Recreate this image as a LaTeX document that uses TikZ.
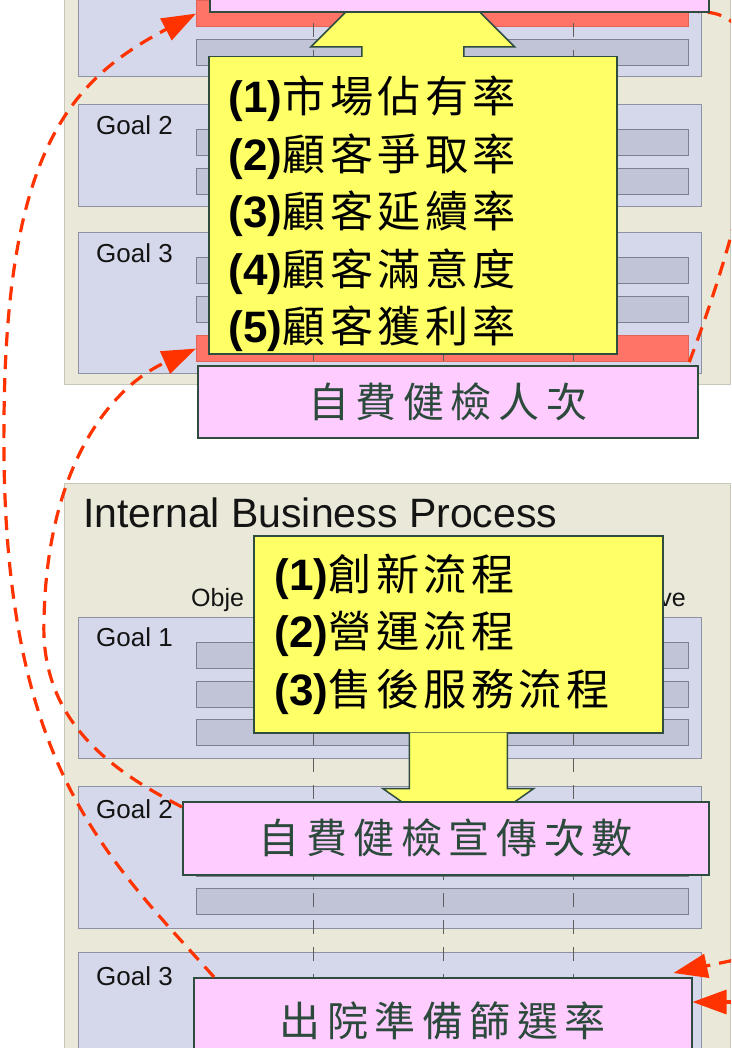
\documentclass[tikz,border=0pt]{standalone}
\usepackage{fontspec}
\setmainfont{Liberation Sans}
\newfontfamily\cjk[LetterSpace=10,Scale=1.08]{Noto Sans CJK TC}
\newfontfamily\cjkwide[LetterSpace=16]{Noto Sans CJK TC}
\usetikzlibrary{arrows.meta, positioning, calc}
\definecolor{panelbg}{HTML}{EAE8D8}
\definecolor{panelln}{HTML}{C9C7B8}
\definecolor{goalbg}{HTML}{D5D8EA}
\definecolor{goalln}{HTML}{8E91A2}
\definecolor{barbg}{HTML}{C1C3D6}
\definecolor{barln}{HTML}{7D808F}
\definecolor{hotbg}{HTML}{FF7466}
\definecolor{hotln}{HTML}{E2625A}
\definecolor{kpibg}{HTML}{FFFF66}
\definecolor{tagbg}{HTML}{FFCCFF}
\definecolor{boxln}{HTML}{2E4D3E}
\definecolor{tagtxt}{HTML}{2B4A3B}
\definecolor{lbltxt}{HTML}{141414}
\definecolor{linkred}{HTML}{FF3300}
\definecolor{divln}{HTML}{5E5E5E}
\newcommand\kpiline[2]{{\bfseries\fontsize{44}{57.5}\selectfont(#1)}{\cjk #2}}
\tikzset{
  panelbox/.style ={rectangle, draw=panelln, fill=panelbg, line width=1.2pt},
  goalbox/.style  ={rectangle, draw=goalln, fill=goalbg, line width=1.2pt, minimum width=623},
  barbox/.style   ={rectangle, draw=barln, fill=barbg, line width=1.2pt, minimum width=492, minimum height=26},
  hotbar/.style   ={barbox, draw=hotln, fill=hotbg},
  goallbl/.style  ={font=\fontsize{26}{30}\selectfont, text=lbltxt, inner sep=0pt, anchor=base west},
  hdrlbl/.style   ={font=\fontsize{25}{30}\selectfont, text=lbltxt, inner sep=0pt},
  kpibox/.style   ={rectangle, draw=boxln, fill=kpibg, line width=1.5pt, align=left, inner xsep=20, inner ysep=0, font=\fontsize{40}{57.5}\selectfont},
  kpiarrow/.style ={draw=boxln, fill=kpibg, line width=1.5pt, line join=miter},
  tagbox/.style   ={rectangle, draw=boxln, fill=tagbg, line width=1.5pt, text=tagtxt, font=\cjkwide\fontsize{41}{48}\selectfont},
  divline/.style  ={draw=divln, line width=1pt, dash pattern=on 14pt off 13pt},
  redlink/.style  ={draw=linkred, line width=3.2pt, dash pattern=on 14pt off 9pt},
  redarrow/.style ={-{Triangle[length=34pt,width=24pt]}},
}
\begin{document}
\begin{tikzpicture}[x=1pt, y=-1pt]
\useasboundingbox (0,0) rectangle (731,1048);
\clip (0,0) rectangle (731,1048);

% 顧客構面
\node[panelbox, minimum width=666, minimum height=425, anchor=south west] (custpanel) at (64,385) {};
\node[goalbox, minimum height=137, anchor=south west] (cgoal1) at (78,77) {};
\node[goalbox, minimum height=102, anchor=north west] (cgoal2) at (78,104) {};
\node[goalbox, minimum height=141, anchor=north west] (cgoal3) at (78,232) {};
\node[goallbl] (cg2lbl) at (96,135) {Goal 2};
\node[goallbl] (cg3lbl) at (96,263) {Goal 3};
\node[hotbar, anchor=north west] (chot1) at (196,0) {};
\node[barbox, anchor=north west] (cbar1) at (196,39) {};
\node[barbox, anchor=north west] (cbar2) at (196,129) {};
\node[barbox, anchor=north west] (cbar3) at (196,168) {};
\node[barbox, anchor=north west] (cbar4) at (196,257) {};
\node[barbox, anchor=north west] (cbar5) at (196,296) {};
\node[hotbar, anchor=north west] (chot3) at (196,335) {};

% 內部流程構面
\node[panelbox, minimum width=666, minimum height=600, anchor=north west] (ipanel) at (64,483) {};
\node[font=\fontsize{41}{48}\selectfont, text=lbltxt, inner sep=0pt, anchor=base west] (ititle) at (83,527) {Internal Business Process};
\node[hdrlbl, anchor=base west] (iobj) at (191,606) {Obje};
\node[hdrlbl, anchor=base east] (iini) at (686,606) {ve};
\node[goalbox, minimum height=141, anchor=north west] (igoal1) at (78,617) {};
\node[goalbox, minimum height=142, anchor=north west] (igoal2) at (78,786) {};
\node[goalbox, minimum height=141, anchor=north west] (igoal3) at (78,952) {};
\node[goallbl] (ig1lbl) at (96,646) {Goal 1};
\node[goallbl] (ig2lbl) at (96,818) {Goal 2};
\node[goallbl] (ig3lbl) at (96,985) {Goal 3};
\node[barbox, anchor=north west] (ibar1) at (196,642) {};
\node[barbox, anchor=north west] (ibar2) at (196,681) {};
\node[barbox, anchor=north west] (ibar3) at (196,719) {};
\node[barbox, anchor=north west] (ibar4) at (196,811) {};
\node[barbox, anchor=north west] (ibar5) at (196,850) {};
\node[barbox, anchor=north west] (ibar6) at (196,888) {};
\node[barbox, anchor=north west] (ibar7) at (196,977) {};
\node[barbox, anchor=north west] (ibar8) at (196,1016) {};

% 欄位分隔線
\foreach \x in {313,443,573} {
  \draw[divline] (\x,-4) -- (\x,380);
  \draw[divline] (\x,623) -- (\x,1048);
}

% 右側連線(被上方標籤遮住)
\coordinate (ctaghide) at (698,12);
\draw[redlink] (chot3.south east) .. controls (745,215) and (800,8) .. (ctaghide);

% 黃色指標框與箭頭
\node[kpibox, text width=368, minimum height=297, anchor=north west] (custkpi) at (208,56)
  {\rule{0pt}{54pt}\kpiline{1}{市場佔有率}\\ \kpiline{2}{顧客爭取率}\\ \kpiline{3}{顧客延續率}\\ \kpiline{4}{顧客滿意度}\\ \kpiline{5}{顧客獲利率}};
\draw[kpiarrow] ($(custkpi.north)+(-51,1)$) -- ++(0,-10) -- ++(-51,0) -- ($(custkpi.north)+(0,-111)$)
  -- ($(custkpi.north)+(102,-9)$) -- ++(-51,0) -- ++(0,10);
\node[kpibox, inner xsep=21, text width=367, minimum height=197, anchor=north west] (prockpi) at (253,535)
  {\kpiline{1}{創新流程}\\ \kpiline{2}{營運流程}\\ \kpiline{3}{售後服務流程}};
\draw[kpiarrow] ($(prockpi.south)+(-49,-1)$) -- ++(0,56) -- ++(-26.5,0) -- ($(prockpi.south)+(0,108)$)
  -- ($(prockpi.south)+(75.5,55)$) -- ++(-26.5,0) -- ++(0,-56);

% 粉紅量測指標
\node[tagbox, minimum width=499, minimum height=60, anchor=south west] (ctag1) at (209,13) {};
\node[tagbox, minimum width=500, minimum height=72, anchor=north west] (ctag2) at (197,365) {自費健檢人次};
\node[tagbox, minimum width=526, minimum height=73, anchor=north west] (itag1) at (182,801) {自費健檢宣傳次數};
\node[tagbox, minimum width=498, minimum height=86, anchor=north west] (itag2) at (193,977) {出院準備篩選率};

% 因果連線
\draw[redlink, redarrow] ($(itag2.north west)+(21,0)$) .. controls (100,850) and (0,760) .. (4,420)
  .. controls (6,150) and (70,80) .. (chot1.west);
\draw[redlink, redarrow] ($(itag1.north west)+(0,6)$) .. controls (110,770) and (40,720) .. (44,620)
  .. controls (47,460) and (115,385) .. (chot3.west);
\coordinate (dsrc) at (800,945);
\coordinate (esrc) at (800,1002);
\draw[redlink, redarrow] (dsrc) .. controls (760,955) and (720,963) .. ($(itag2.north east)+(-19,-4)$);
\draw[redlink, redarrow] (esrc) -- ($(itag2.north east)+(0,25)$);

\end{tikzpicture}
\end{document}
